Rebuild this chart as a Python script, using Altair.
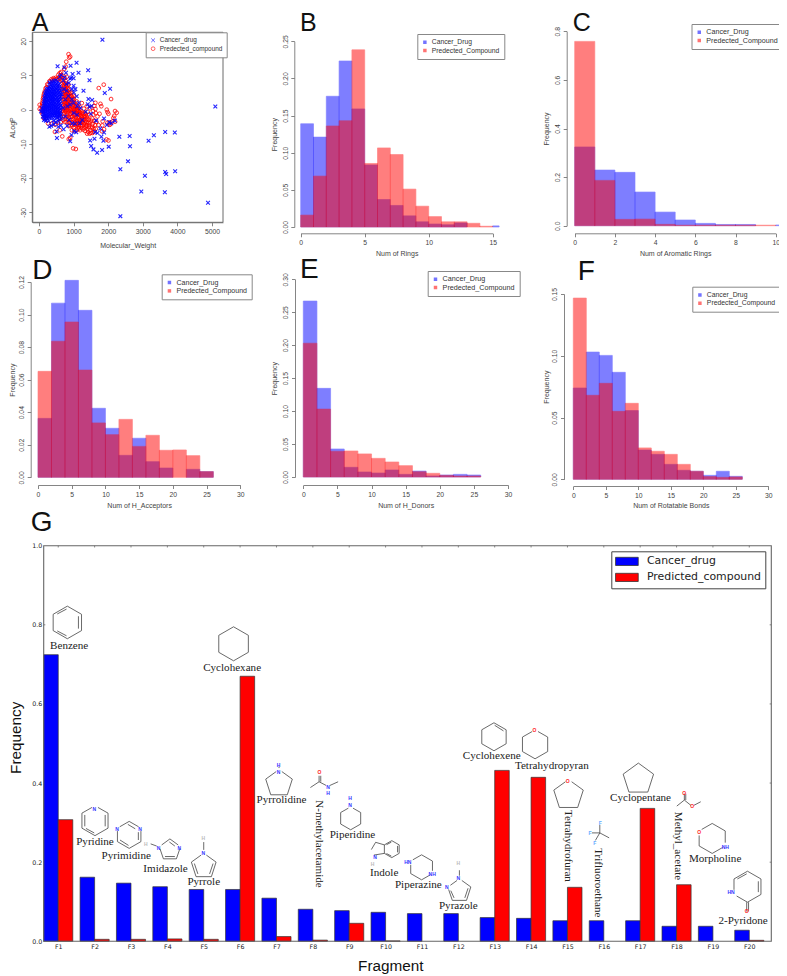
import altair as alt
import pandas as pd

W, H = 771, 968
FONT = "Liberation Sans"
SERIF = "Liberation Serif"
BLUE, RED = "#0000ff", "#ff0000"

# ---------- panel A ----------
cancer_points = [
(1833,20.4),(5096,.9),(537,12.7),(912,12.8),(1085,13.7),(1142,10.8),(1420,11.5),(1459,8.6),(730,12.3),(1286,5.5),(1900,4.9),(2054,6.1),
(1430,3.1),(1535,2.8),(2322,-7.9),(2620,-7.7),(2630,-10.7),(3320,-7.5),(3167,-9.1),(3647,-6.5),(3925,-6.7),(2351,-17.4),(2572,-15.1),
(3061,-19.3),(3647,-18.2),(3676,-18.8),(3935,-18),(2956,-23.9),(3637,-24.1),(4885,-27.2),(2351,-31.1),(2015,-10.8),(1823,-11.8),(1680,-12.6),
(1574,-11.6),(1507,-10.6),(1862,-9.1),(1478,-9),(1603,-8.5),(1804,-7.9),(902,-9.2),(940,-7.4),(518,-8.3),(509,-6.4),(816,-4.7),(710,-5.7),
(1017,-6.3),(1075,-6.6),(1690,-6.8),(1620,-6.5),(1880,-6.7),(1770,-5.5),(1880,-2.6),(2030,-3.7),(2090,-4),(2190,-3.2),(1960,-4.5),(1650,-3.2),
(1500,-1.2),(1460,.8),(1520,1.1),(1410,1.6),(1350,-.6),(1250,-3),(1180,-4),(1040,-4.1),(960,-4),(870,-3),(630,-4.6),(560,-5),(430,-4.3),(300,-5),
(350,-4.7),(200,-3.2),(145,-3),(110,-2),(60,-.5),(90,.5),
(900,9),(930,9.3),(860,7.8),(790,7.5),(970,10.4),(1000,9.2),(1050,6),(1000,7),(950,6),(1010,5),(1090,3.9),(780,10.8),(740,9.4),(640,10.1),(600,9.6),(700,8.5),
(1150,2),(1100,1),(1200,.5),(1000,2),(950,3),(900,1.5),(850,4),(800,5.5),(760,3),(720,6),(660,4.5),(820,1),(700,.5),(1000,-1),(1100,-1.5),(760,-2),(650,-2.6),
(310,7.9),(370,8.2),(430,8.4),(490,8.6),(550,8.2),(240,6.2),(300,6.6),(360,6.8),(420,7),(480,7.2),(540,7),(600,6.8),
(200,5.2),(260,5.4),(320,5.6),(380,5.9),(440,5.8),(500,6),(560,5.7),(620,5.5),(190,4.2),(250,4.4),(310,4.6),(370,4.8),(430,4.7),(490,4.9),(550,4.6),(610,4.5),
(170,3.2),(230,3.4),(290,3.6),(350,3.8),(410,3.7),(470,3.9),(530,3.6),(590,3.5),(160,2.2),(220,2.4),(280,2.6),(340,2.8),(400,2.7),(460,2.9),(520,2.6),(580,2.5),
(150,1.2),(210,1.4),(270,1.6),(330,1.8),(390,1.7),(450,1.9),(510,1.6),(570,1.5),(630,1.2),(130,.2),(190,.4),(250,.6),(310,.8),(370,.7),(430,.9),(490,.6),(550,.5),(610,.2),
(120,-.8),(180,-.6),(240,-.4),(300,-.2),(360,-.3),(420,-.1),(480,-.4),(540,-.5),(600,-.8),(150,-1.8),(210,-1.6),(270,-1.4),(330,-1.2),(390,-1.3),(450,-1.1),(510,-1.4),(570,-1.5),(630,-1.6),
(170,-2.7),(240,-2.5),(310,-2.4),(380,-2.3),(450,-2.2),(520,-2.4),(590,-2.8),(280,-3.3),(420,-3.2),(560,-3.4),(490,-3.6),
(335,7.3),(395,7.6),(455,7.8),(515,7.6),(575,7.4),(225,5.8),(285,6),(345,6.2),(405,6.4),(465,6.5),(525,6.4),(590,6.2),
(175,4.7),(225,4.9),(285,5),(345,5.2),(405,5.3),(465,5.4),(525,5.2),(590,5),(160,3.7),(210,3.9),(270,4),(330,4.2),(390,4.3),(450,4.4),(510,4.2),(570,4),(630,3.8),
(150,2.7),(200,2.9),(260,3),(320,3.2),(380,3.3),(440,3.4),(500,3.1),(560,3),(620,2.8),(140,1.7),(190,1.9),(250,2),(310,2.2),(370,2.3),(430,2.4),(490,2.1),(550,2),(610,1.8),
(130,.7),(180,.9),(240,1),(300,1.2),(360,1.3),(420,1.4),(480,1.1),(540,1),(600,.8),(125,-.3),(170,-.1),(230,.1),(290,.3),(350,.3),(410,.4),(470,.1),(530,0),(590,-.2),
(135,-1.3),(190,-1.1),(250,-.9),(310,-.7),(370,-.8),(430,-.6),(490,-.9),(550,-1),(610,-1.2),(165,-2.2),(225,-2.1),(290,-1.9),(350,-1.8),(410,-1.7),(470,-1.6),(530,-1.9),(590,-2.1)]

predicted_points = [
(854,16.2),(873,15.2),(787,14),(900,15.5),(770,12.6),(730,11.9),(640,11),(600,10.7),(560,10.2),(19,1.4),(19,.2),
(650,7.4),(660,5.7),(670,3.7),(680,1.6),(660,-.2),(640,-1.3),(600,-2.4),(540,-3.8),(630,-3.6),(700,-3),(470,-4.4),(380,-4),(260,-4),(200,-2.4),
(640,10),(590,9.4),(540,9.1),(480,9.3),(420,9.2),(360,8.9),(300,8.3),(240,7.4),(190,6.2),(150,4.8),(130,3.6),(110,2.6),(100,1.5),(110,.4),(90,-.6),
(700,9.8),(660,9.4),(620,8.9),(570,8.8),(510,8.9),(450,8.9),(390,8.6),(330,8.2),(270,7.3),(215,6.5),(170,5.4),(135,4.2),(115,3.2),(95,2),(75,1),(75,0),(100,-1.2),(130,-2.4),
(600,-6),(460,-6.5),
(1727,6.3),(1871,7.3),(2083,3.1),(1775,1.7),(1238,1.9),(1958,0),(2198,-.4),(2245,-.9),(2006,-1.2),
(988,-11.3),(1065,-11.5),(672,-7.8),(860,-8.6),(900,-8.2),(2006,-9),(1630,.2),(1640,-1),(1570,-1.5),(1690,-2),(1750,-1.2),(1800,1),(1980,-.7),(2150,-2.4),(2175,-1.8),(2120,-3.5),(2200,-3.5),(2060,-4.3),(2040,-3.7),(1980,-3.8),(2040,-4.4),(1840,-3.4),(1830,-4.6),(1820,-6.3),(1880,-5.7),(1950,-8.7),
(1550,-4.2),(1620,-4.5),(1720,-4.5),(1600,-6.4),(1530,-5.4),(1480,-6),(1430,-5),(1390,-7),(1400,-5.7),(1480,-3.8),(1440,-3),(1380,-2),(1330,-1),(1400,-.6),(1480,.4),(1450,-1.6),(1340,-3.2),(1280,-2),(1300,-4.2),(1240,-3),(1230,-5.4),(1160,-5.5),(1120,-5.4),(1080,-4.6),(1000,-5.2),(950,-6),
(1220,-.6),(1180,-1.4),(1130,-2.4),(1200,-2.8),(1170,-3.8),(1100,-3.3),(1060,-2.2),(1040,-3.2),(1000,-2.8),(950,-2),(900,-3),(860,-2.2),(810,-1.6),(1150,-.4),(1100,0),(1060,-.8),(1010,-1.4),(960,-.8),(910,-1),(860,-.4),(810,-.1),(760,-.6),(710,-1.2),(760,-2.6),
(1120,1),(1060,.6),(1010,.2),(960,.8),(910,.3),(860,.9),(810,1),(760,.5),(710,.2),(1050,1.7),(990,2),(940,2.3),(890,1.9),(840,2.2),(790,2),(740,1.7),(700,1.3),(1010,3),(950,3.8),(900,3.2),(850,3.3),(800,3.2),(750,2.9),(930,5),(880,4.6),(830,4.5),(780,4.2),(730,4),(860,5.8),(810,5.4),(760,5.2),(710,5.2),(850,7.3),(800,6.7),(750,6.5),(700,6.4),(780,8.3),(730,7.9),(680,7.8),(800,9.6),(740,9.2),
(1000,4),(1090,2.4),(1170,.8),(1300,.3),(1380,1),
(1180,-.7),(1210,-1.9),(1250,-1),(1290,-2.8),(1150,-3),(1080,-2.7),(1120,-1.2),(1040,-1.6),(980,-2),(920,-2.2),(880,-1.4),(830,-1),(780,-.3),(740,-.1),(1090,-.2),(1030,-.4),(970,.1),(930,-.3),(880,.2),(830,.4),(785,.7),(740,1),(1140,.4),(1080,1.2),(1030,1.2),(975,1.4),(920,1.2),(870,1.5),(820,1.6),(770,1.4),(1020,2.3),(965,2.9),(915,2.8),(870,2.7),(820,2.7),(770,2.4),(725,2.3),(980,3.4),(925,3.9),(875,3.9),(825,3.8),(775,3.6),(730,3.2),(900,5),(855,5),(805,4.8),(755,4.6),(830,6.2),(780,5.9),(735,5.7),(825,7),(775,7.2),(725,7),(760,7.7),(1330,-2.2),(1370,-3.6),(1270,-3.6),(1210,-4.6),(1140,-4.5),(1060,-3.9),(1000,-3.6),(930,-3.7),(870,-3.6),(1310,-5.4),(1380,-4.6),(1440,-4.4),(1510,-3.2),(1540,-5),
(1250,-4.6),(1280,-5.8),(1330,-6.2),(1360,-5.2),(1420,-6.5),(1460,-7),(1500,-6.8),(1550,-6.8),(1580,-5.6),(1640,-5.6),(1660,-3.6),(1600,-3.2),(1540,-2.6),(1560,-.4),(1600,1.1),(1630,2),
(1100,-4.2),(1150,-5),(1190,-6),(1090,-6),(1030,-6.2),(1010,-4.4),(970,-4.6),(1120,-3.9),(1190,-3.3),(1240,-2.3),(1290,-1.2),(1350,-1.4),(1400,-2.6),(1430,-3.8),(1370,-4.8),(1320,-3.8),(1260,-4),(1210,-3.4),(1150,-2),(1090,-1),(1030,-.1),(1000,-.7),(1060,.1),(1120,-.6),(1170,-1),(1240,-1.7),(1310,-1.8),(1370,-2.8),
(920,-4.6),(860,-4.8),(800,-3.6),(750,-3.6),(840,-2.8),(790,-2.2),(730,-2),(700,-.4),(700,3),(690,4.6),(680,6),(670,8.6)]

ax_x_ticks = [0, 1000, 2000, 3000, 4000, 5000]
ax_y_ticks = [-30, -20, -10, 0, 10, 20]

# ---------- histograms ----------
rings_edges = [0,1,2,3,4,5,6,7,8,9,10,11,12,13,14,15,15.5]
rings_cancer = [.139,.121,.176,.2235,.159,.0835,.037,.029,.015,.007,.004,.003,.0055,0,0,.0015]
rings_pred = [.016,.0685,.136,.143,.2385,.0855,.1065,.0975,.051,.028,.014,.007,.007,.005,.001,0]

arom_edges = [0,1,2,3,4,5,6,7,8,9,10,10.4]
arom_cancer = [.324,.229,.2195,.1385,.056,.0235,.0095,.005,.005,0,.003]
arom_pred = [.7585,.1865,.026,.027,.0055,.002,.002,.002,.002,.002,0]

even_edges = [0,2,4,6,8,10,12,14,16,18,20,22,24,26]
acc_cancer = [.0362,.107,.121,.1026,.0424,.0301,.0135,.024,.0096,.0057,0,.0049,.0035]
acc_pred = [.0651,.0836,.0954,.0659,.0334,.0262,.0356,.019,.0258,.0166,.0168,.0133,.0035]
don_cancer = [.267,.1345,.0425,.0147,.0076,.006,.0106,.004,.009,.0015,.003,.004,.003]
don_pred = [.203,.103,.039,.0395,.035,.0283,.0228,.0172,.008,.0056,.0025,.0015,.0015]
rot_cancer = [.0739,.103,.1003,.0866,.0556,.0237,.0202,.0121,.0073,.0065,.0032,.0065,.0024]
rot_pred = [.1467,.068,.0777,.055,.0615,.0254,.0227,.0202,.0121,.0065,.0022,.0016,.0019]

# ---------- panel G ----------
fragments = list(range(1, 21))
frag_cancer = [.7245,.162,.147,.138,.131,.131,.109,.081,.0775,.0733,.070,.070,.060,.058,.052,.052,.052,.038,.038,.028]
frag_pred = [.3075,.005,.005,.006,.005,.670,.012,.003,.0455,.001,0,0,.432,.4145,.1365,0,.336,.143,0,.0025]

HEX = "M0,-1L.87,-.5L.87,.5L0,1L-.87,.5L-.87,-.5Z"
HEX_TOPGAP = "M-.2,-.88L-.87,-.5L-.87,.5L0,1L.87,.5L.87,-.5L.2,-.88"
PENT = "M0,-1L.95,-.31L.59,.81L-.59,.81L-.95,-.31Z"
PENT_TOPGAP = "M-.2,-.85L-.95,-.31L-.59,.81L.59,.81L.95,-.31L.2,-.85"
HEX_DIAGGAP = "M-.7,-.6L0,-1L.87,-.5L.87,.28M.7,.6L0,1L-.87,.5L-.87,-.2"

# path, x (fragment axis), y (frequency), diameter in px
molecules = [
    (HEX + "M.68,-.38L.68,.38M-.62,-.52L-.05,-.82M-.62,.52L-.05,.82", 1.25, .806, 32.6),
    (HEX, 5.82, .752, 34),
    (HEX_TOPGAP + "M.68,-.38L.68,.38M-.68,-.38L-.68,.38M-.6,.52L-.05,.82", 2.01, .305, 30),
    ("M-.87,-.28L-.87,.5L0,1L.87,.5L.87,-.28M-.7,-.6L0,-1L.7,-.6M-.68,.38L-.05,.78M-.1,-.78L.45,-.45M.68,-.2L.68,.38", 2.95, .269, 27),
    ("M-.75,-.45L0,-1L.75,-.45M.9,-.1L.59,.81L-.59,.81L-.9,-.1M-.45,.6L.45,.6M-.05,-.72L.45,-.35M-1.75,-.55L-1.2,-.35", 4.07, .231, 22),
    (PENT_TOPGAP + "M-.72,-.2L-.45,.6M.72,-.2L.45,.6M0,-1.25L0,-1.85", 5.00, .190, 26),
    (PENT_TOPGAP + "M0,-1.2L0,-1.1", 7.07, .399, 28),
    ("M-.98,.29L-.36,-.12L-.36,-.55M-.24,-.12L-.24,-.55M-.36,-.12L.14,.14M.42,.14L1,-.12", 8.31, .399, 28),
    (HEX_TOPGAP, 9.04, .311, 23),
    (HEX + "M.68,-.38L.68,.38M-.62,.52L-.05,.82M-.05,-.82L-.62,-.52M-.87,-.5L-1.9,-.8L-2.4,.05M-2.1,.7L-.87,.5", 10.17, .233, 17),
    ("M-.7,-.6L0,-1L.87,-.5L.87,.28M.7,.6L0,1L-.87,.5L-.87,-.2", 10.99, .187, 25),
    ("M.2,-.85L.95,-.31L.59,.81L-.59,.81L-.9,-.1M-.75,-.45L-.2,-.85M.72,-.2L.45,.6M-.72,-.0L-.45,.6M0,-1.25L0,-1.7", 12.03, .128, 24),
    (HEX + "M.05,-.82L.68,-.42", 12.98, .517, 28),
    (HEX_TOPGAP, 14.11, .498, 29),
    (PENT_TOPGAP, 15.03, .370, 31),
    ("M0,0L0,-.72M0,0L-.72,0M0,0L-.4,.68M0,0L.85,.45", 15.89, .274, 22),
    (PENT, 16.95, .410, 32),
    ("M-.17,-.45L-.17,0L-.71,.43M-.07,-.45L-.07,0M-.17,0L.3,.38M.5,.38L1,.12", 18.28, .357, 28),
    (HEX_DIAGGAP, 18.98, .260, 30),
    ("M-.87,.2L-.87,-.5L0,-1L.87,-.5L.87,.5L0,1L-.7,.6M-.05,1L-.05,1.6M.07,1L.07,1.6M.7,-.35L.7,.35M-.65,-.5L-.05,-.83", 19.95, .138, 31),
]

# text, x, y, angle
fragment_names = [
    ("Benzene",1.30,.746,0),("Cyclohexane",5.78,.691,0),("Pyridine",2.01,.252,0),("Pyrimidine",2.87,.216,0),("Imidazole",3.95,.182,0),
    ("Pyrrole",5.00,.149,0),("Pyrrolidine",7.14,.356,0),("N-methylacetamide",8.18,.246,90),("Piperidine",9.09,.268,0),("Indole",9.96,.173,0),
    ("Piperazine",10.90,.142,0),("Pyrazole",12.0,.088,0),("Cyclohexene",12.92,.468,0),("Tetrahydropyran",14.57,.442,0),("Tetrahydrofuran",15.02,.241,90),
    ("Trifluoroethane",15.84,.148,90),("Cyclopentane",17.01,.361,0),("Methyl_acetate",18.04,.241,90),("Morpholine",19.06,.208,0),("2-Pyridone",19.83,.051,0),
]

# atom, x, y, kind
atoms = [
    ("N",1.99,.335,"N"),("N",2.62,.283,"N"),("N",3.25,.283,"N"),("N",3.76,.236,"N"),("N",4.33,.236,"N"),("H",3.41,.246,"H"),
    ("N",4.99,.224,"N"),("H",4.99,.260,"H"),("N",7.06,.429,"N"),("H",7.06,.446,"N"),("O",8.18,.429,"O"),("N",8.42,.391,"N"),("H",8.42,.376,"N"),
    ("N",9.02,.345,"N"),("H",9.02,.361,"N"),("N",9.71,.214,"N"),("H",9.64,.195,"H"),("HN",10.61,.200,"N"),("NH",11.28,.170,"N"),
    ("N",12.0,.159,"N"),("N",11.68,.136,"N"),("H",12.0,.197,"H"),("O",14.09,.533,"O"),("O",15.01,.406,"O"),
    ("F",15.9,.298,"F"),("F",15.62,.273,"F"),("F",15.75,.249,"F"),("O",18.21,.376,"O"),("O",18.43,.342,"O"),
    ("O",18.62,.276,"O"),("NH",19.34,.239,"N"),("HN",19.5,.124,"N"),("O",19.93,.077,"O"),
]

# letter, left edge, baseline, font size
panel_letters = [("A",31.7,31,25),("B",300,31,25),("C",572.7,31,25),("D",32.3,279.3,28),("E",300,277.7,28),("F",577.7,280,28),("G",30.7,530.7,28)]


def vx(px):
    return px - 8


def letter(txt, px, py, size):
    return alt.Chart(pd.DataFrame({"t": [txt]})).mark_text(
        font=FONT, fontSize=size, align="left", baseline="alphabetic", color="#111111"
    ).encode(x=alt.value(vx(px)), y=alt.value(vx(py)), text="t:N")


def frame(x0, x1, y0, y1, color="#6a6a6a", width=1.0):
    return alt.Chart(pd.DataFrame({"f": [0]})).mark_rect(fill=None, stroke=color, strokeWidth=width).encode(
        x=alt.value(vx(x0)), x2=alt.value(vx(x1)), y=alt.value(vx(y0)), y2=alt.value(vx(y1))
    )


def r_axis(title, values, axis_offset, title_off, orient, fmt=None):
    kw = dict(
        title=title, values=values, offset=axis_offset, orient=orient, grid=False, labelFont=FONT, titleFont=FONT,
        labelFontSize=6.8, titleFontSize=7, titleFontWeight="normal", labelColor="#444444", titleColor="#444444",
        domainColor="#777777", tickColor="#777777", domainWidth=0.9, tickWidth=0.9, tickSize=3.5, labelPadding=2.6,
        labelOverlap=False, labelFlush=False, titleBaseline="middle",
    )
    if orient == "bottom":
        kw["titleY"] = title_off
    else:
        kw["titleX"] = title_off
        kw["labelAngle"] = -90
        kw["labelAlign"] = "center"
        kw["labelBaseline"] = "bottom"
    if fmt:
        kw["format"] = fmt
    else:
        kw["labelExpr"] = "'' + datum.value"
    return alt.Axis(**kw)


SMALL_PAD = 4.2


def small_legend(x, y, font):
    return alt.Legend(
        title=None, orient="none", legendX=vx(x), legendY=vx(y), strokeColor="#888888", padding=SMALL_PAD, fillColor="white",
        labelFont=FONT, labelFontSize=font, labelColor="#333333", symbolSize=12, symbolType="square", symbolOpacity=0.55,
        symbolStrokeWidth=0, labelOffset=3.5, rowPadding=0.4, labelLimit=200, clipHeight=8,
    )


def hist(edges, cancer, pred, xd, xr, yd, yr, ax_y, ax_x, xtitle, xtitle_y, ftitle_x, xvals, yvals, yfmt, lx, ly, lfont):
    n = len(cancer)
    labels = ["Cancer_Drug", "Predected_Compound"]
    df = pd.DataFrame({
        "lo": edges[:-1] * 2, "hi": edges[1:] * 2, "freq": cancer + pred,
        "series": [labels[0]] * n + [labels[1]] * n, "base": [0] * (2 * n),
    })
    df = df[df.freq > 0]
    xs = alt.Scale(domain=xd, range=[vx(xr[0]), vx(xr[1])], nice=False, zero=False)
    ys = alt.Scale(domain=yd, range=[vx(yr[0]), vx(yr[1])], nice=False, zero=False)
    cs = alt.Scale(domain=labels, range=[BLUE, RED])
    return alt.Chart(df).mark_rect(opacity=0.5, strokeWidth=1, strokeOpacity=0.62).encode(
        x=alt.X("lo:Q", scale=xs, axis=r_axis(xtitle, xvals, vx(ax_y) - H, xtitle_y - ax_y, "bottom")),
        x2="hi:Q",
        y=alt.Y("freq:Q", scale=ys, axis=r_axis("Frequency", yvals, -vx(ax_x), ftitle_x - ax_x, "left", yfmt)),
        y2="base:Q",
        color=alt.Color("series:N", scale=cs, legend=small_legend(lx, ly, lfont)),
        stroke=alt.Stroke("series:N", scale=cs, legend=None),
    )


# ---------- panel A chart ----------
a_df = pd.DataFrame(
    [{"mw": m, "alogp": v, "series": "Predected_compound"} for m, v in predicted_points]
    + [{"mw": m, "alogp": v, "series": "Cancer_drug"} for m, v in cancer_points]
)
a_labels = ["Cancer_drug", "Predected_compound"]
a_shapes = ["M-1,-1L1,1M-1,1L1,-1", "circle"]
a_legend = alt.Legend(
    title=None, orient="none", legendX=vx(145.7), legendY=vx(32.3), strokeColor="#888888", padding=SMALL_PAD, fillColor="white",
    labelFont=FONT, labelFontSize=6.4, labelColor="#333333", symbolSize=14, symbolStrokeWidth=0.7, labelOffset=3.5,
    rowPadding=0.4, labelLimit=200, clipHeight=7.6,
)
panel_a = alt.Chart(a_df).mark_point(filled=False, size=14, opacity=0.85).encode(
    x=alt.X("mw:Q", scale=alt.Scale(domain=[-194, 5318], range=[vx(32.3), vx(223)], nice=False, zero=False),
            axis=r_axis("Molecular_Weight", ax_x_ticks, vx(222.3) - H, 23.4, "bottom")),
    y=alt.Y("alogp:Q", scale=alt.Scale(domain=[-32.9, 22.6], range=[vx(222.3), vx(32.3)], nice=False, zero=False),
            axis=r_axis("ALogP", ax_y_ticks, -vx(32.3), -20.3, "left")),
    color=alt.Color("series:N", scale=alt.Scale(domain=a_labels, range=[BLUE, RED]), legend=a_legend),
    shape=alt.Shape("series:N", scale=alt.Scale(domain=a_labels, range=a_shapes), legend=a_legend),
    strokeWidth=alt.StrokeWidth("series:N", scale=alt.Scale(domain=a_labels, range=[1.1, 0.95]), legend=None),
)

panel_b = hist(rings_edges, rings_cancer, rings_pred, [0, 15], (300.7, 492.7), [0, .25], (227, 41.3), 233.3, 294.3,
               "Num of Rings", 253.3, 274, [0, 5, 10, 15], [0, .05, .1, .15, .2, .25], ".2f", 417.3, 34, 6.76)
panel_c = hist(arom_edges, arom_cancer, arom_pred, [0, 10], (574.7, 775.7), [0, .8], (225.7, 31.3), 233.3, 566.7,
               "Num of Aromatic Rings", 253, 546.7, [0, 2, 4, 6, 8, 10], [0, .2, .4, .6, .8], ".1f", 691.5, 24, 7.13)
panel_d = hist(even_edges, acc_cancer, acc_pred, [0, 30], (38, 240.3), [0, .12], (477.3, 282), 485, 30.7,
               "Num of H_Acceptors", 505, 12, [0, 5, 10, 15, 20, 25, 30], [0, .02, .04, .06, .08, .1, .12], ".2f", 161.7, 274.3, 7.06)
panel_e = hist(even_edges, don_cancer, don_pred, [0, 30], (303.3, 508), [0, .3], (477, 279.3), 485, 295,
               "Num of H_Donors", 505, 274.3, [0, 5, 10, 15, 20, 25, 30], [0, .05, .1, .15, .2, .25, .3], ".2f", 427.7, 271, 7.2)
panel_f = hist(even_edges, rot_cancer, rot_pred, [0, 30], (573.3, 768.3), [0, .15], (479.3, 294), 486, 564,
               "Num of Rotatable Bonds", 505.3, 546.7, [0, 5, 10, 15, 20, 25, 30], [0, .05, .1, .15], ".2f", 692.3, 286.7, 6.83)

# ---------- panel G chart ----------
BAR = 0.4
g_labels = ["Cancer_drug", "Predicted_compound"]
gx = alt.Scale(domain=[0.6, 20.605], range=[vx(43.7), vx(771.3)], nice=False, zero=False)
gy = alt.Scale(domain=[0, 1], range=[vx(941.3), vx(545.7)], nice=False, zero=False)
g_df = pd.DataFrame({
    "lo": [f - BAR for f in fragments] + list(fragments),
    "hi": list(fragments) + [f + BAR for f in fragments],
    "freq": frag_cancer + frag_pred,
    "series": [g_labels[0]] * 20 + [g_labels[1]] * 20,
    "base": [0] * 40,
})
g_df = g_df[g_df.freq > 0]
g_x_axis = alt.Axis(
    title="Fragment", values=fragments, labelExpr="'F' + datum.value", orient="bottom", offset=vx(941.3) - H, grid=False,
    ticks=False, domain=False, labelFont="DejaVu Sans", labelFontSize=6.3, labelColor="#222222", labelPadding=2.5,
    labelOverlap=False, labelFlush=False, titleFont=FONT, titleFontSize=15.3, titleFontWeight="normal", titleColor="#111111",
    titleBaseline="middle", titleX=vx(390.3), titleY=23.7,
)
g_y_axis = alt.Axis(
    title="Frequency", values=[0, .2, .4, .6, .8, 1], format=".1f", orient="left", offset=-vx(43.7), grid=False,
    ticks=False, domain=False, labelFont="DejaVu Sans", labelFontSize=6.3, labelColor="#222222", labelPadding=2,
    labelOverlap=False, labelFlush=False, titleFont=FONT, titleFontSize=15.3, titleFontWeight="normal", titleColor="#111111",
    titleBaseline="middle", titleX=15.5 - 43.7, titleY=vx(737.3),
)
g_legend = alt.Legend(
    title=None, orient="none", legendX=vx(611.3), legendY=vx(551.3), strokeColor="#444444", fillColor="white", padding=3.6,
    labelFont="DejaVu Sans", labelFontSize=10.9, labelColor="#222222", symbolType="M-1,-.36L1,-.36L1,.36L-1,.36Z", symbolSize=515,
    symbolOpacity=1, symbolStrokeColor="#333333", symbolStrokeWidth=0.8, labelOffset=8, rowPadding=3, labelLimit=300, clipHeight=13,
)
g_bars = alt.Chart(g_df).mark_rect(stroke="#333333", strokeWidth=0.7).encode(
    x=alt.X("lo:Q", scale=gx, axis=g_x_axis),
    x2="hi:Q",
    y=alt.Y("freq:Q", scale=gy, axis=g_y_axis),
    y2="base:Q",
    color=alt.Color("series:N", scale=alt.Scale(domain=g_labels, range=[BLUE, RED]), legend=g_legend),
)
TICK_X = 0.045
TICK_Y = 0.0045
ytick_values = [.2, .4, .6, .8]
g_top_ticks = alt.Chart(pd.DataFrame({"f": fragments, "a": [1] * 20, "b": [1 - TICK_Y] * 20})).mark_rule(color="#555555", strokeWidth=0.7).encode(
    x=alt.X("f:Q", scale=gx, axis=None), y=alt.Y("a:Q", scale=gy, axis=None), y2="b:Q")
g_left_ticks = alt.Chart(pd.DataFrame({"v": ytick_values, "a": [0.6] * 4, "b": [0.6 + TICK_X] * 4})).mark_rule(color="#555555", strokeWidth=0.7).encode(
    x=alt.X("a:Q", scale=gx, axis=None), x2="b:Q", y=alt.Y("v:Q", scale=gy, axis=None))
g_right_ticks = alt.Chart(pd.DataFrame({"v": ytick_values, "a": [20.605] * 4, "b": [20.605 - TICK_X] * 4})).mark_rule(color="#555555", strokeWidth=0.7).encode(
    x=alt.X("a:Q", scale=gx, axis=None), x2="b:Q", y=alt.Y("v:Q", scale=gy, axis=None))

mol_df = pd.DataFrame(molecules, columns=["path", "x", "y", "d"])
mol_df["size"] = mol_df.d ** 2
g_mols = alt.Chart(mol_df).mark_point(filled=False, stroke="#444444", strokeWidth=0.8, opacity=1).encode(
    x=alt.X("x:Q", scale=gx, axis=None), y=alt.Y("y:Q", scale=gy, axis=None),
    shape=alt.Shape("path:N", scale=None), size=alt.Size("size:Q", scale=None),
)
name_df = pd.DataFrame(fragment_names, columns=["t", "x", "y", "a"])
g_names = alt.Chart(name_df).mark_text(font=SERIF, fontSize=11.1, color="#222222", align="center", baseline="middle").encode(
    x=alt.X("x:Q", scale=gx, axis=None), y=alt.Y("y:Q", scale=gy, axis=None), text="t:N", angle=alt.Angle("a:Q", scale=None),
)
atom_df = pd.DataFrame(atoms, columns=["t", "x", "y", "k"])
g_atoms = alt.Chart(atom_df).mark_text(font=FONT, fontSize=5, fontWeight="bold", align="center", baseline="middle").encode(
    x=alt.X("x:Q", scale=gx, axis=None), y=alt.Y("y:Q", scale=gy, axis=None), text="t:N",
    color=alt.Color("k:N", scale=alt.Scale(domain=["N", "O", "F", "H"], range=["#3333ff", "#ff2222", "#66aaff", "#bbbbbb"]), legend=None),
)

layers = [
    panel_a, frame(32.3, 223, 32.3, 222.3),
    panel_b, panel_c, panel_d, panel_e, panel_f,
    g_top_ticks, g_left_ticks, g_right_ticks, g_bars, frame(43.7, 771.3, 545.7, 941.3, "#666666", 1.1),
    g_mols, g_names, g_atoms,
] + [letter(*p) for p in panel_letters]

chart = alt.layer(*layers).resolve_scale(
    x="independent", y="independent", color="independent", stroke="independent", shape="independent", size="independent", angle="independent"
).resolve_axis(x="independent", y="independent").resolve_legend(color="independent", shape="independent", stroke="independent", size="independent").properties(
    width=W, height=H, padding=0, autosize=alt.AutoSizeParams(type="none"), background="white"
).configure_view(strokeWidth=0, stroke=None)

chart.save("out.html", embed_options={"renderer": "svg", "actions": False})
